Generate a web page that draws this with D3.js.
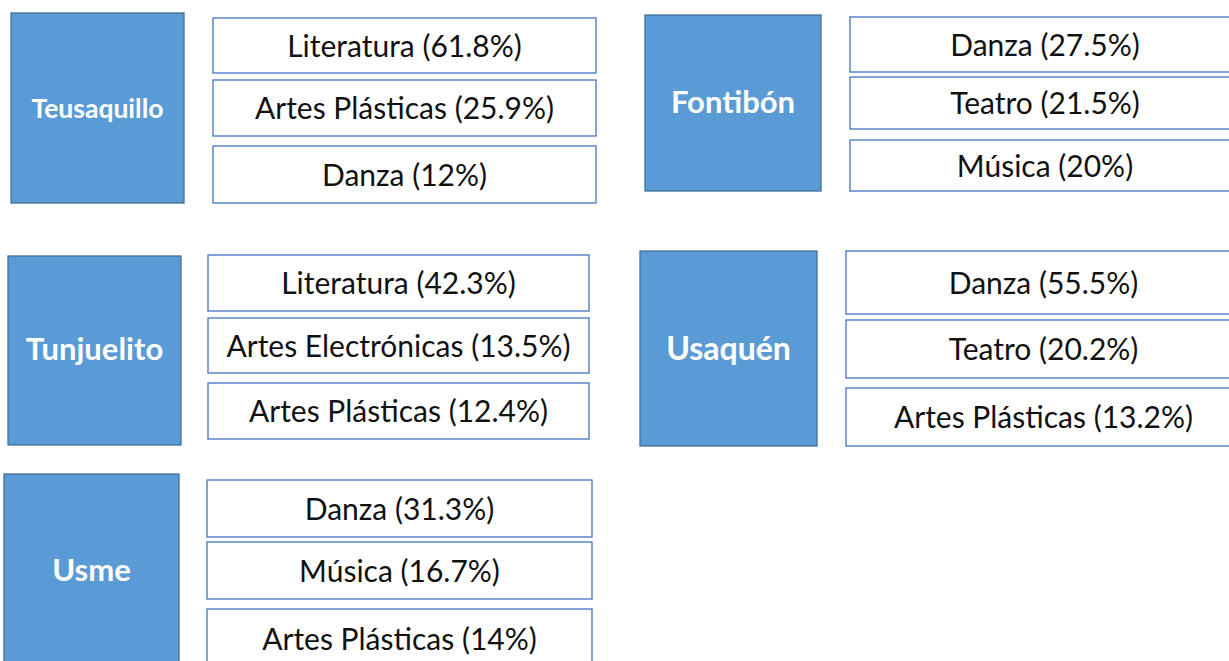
<!DOCTYPE html>
<html>
<head>
<meta charset="utf-8">
<script src="https://cdn.jsdelivr.net/npm/d3@7"></script>
<style>
  html, body { margin: 0; padding: 0; background: #fff; }
  svg { display: block; }
</style>
</head>
<body>
<svg id="chart" width="1229" height="661"></svg>
<script>
// ---- data ----
const localities = ["Teusaquillo", "Fontibón", "Tunjuelito", "Usaquén", "Usme"];
const categories = [
  ["Literatura", "Artes Plásticas", "Danza"],
  ["Danza", "Teatro", "Música"],
  ["Literatura", "Artes Electrónicas", "Artes Plásticas"],
  ["Danza", "Teatro", "Artes Plásticas"],
  ["Danza", "Música", "Artes Plásticas"]
];
const shares = [
  [61.8, 25.9, 12],
  [27.5, 21.5, 20],
  [42.3, 13.5, 12.4],
  [55.5, 20.2, 13.2],
  [31.3, 16.7, 14]
];

// ---- layout (positions only) ----
const panels = [
  { bx: 11, by: 13, bw: 173, bh: 190, lx: 213, lw: 383, rows: [[18, 55], [80, 56], [146, 57]], fs: 26.5, ly: 108 },
  { bx: 645, by: 15, bw: 176, bh: 176, lx: 850, lw: 390, rows: [[17, 55], [77, 52], [140, 51]], fs: 31, ly: 101 },
  { bx: 8, by: 256, bw: 173, bh: 189, lx: 208, lw: 381, rows: [[255, 56], [318, 55], [383, 56]], fs: 31, ly: 348 },
  { bx: 640, by: 251, bw: 177, bh: 195, lx: 846, lw: 395, rows: [[251, 63], [320, 58], [388, 58]], fs: 32, ly: 347 },
  { bx: 4, by: 474, bw: 175, bh: 200, lx: 207, lw: 385, rows: [[480, 57], [542, 57], [609, 60]], fs: 31, ly: 569 }
];

const svg = d3.select("#chart");
const fmt = v => d3.format("~r")(v) + "%";

const g = svg.selectAll("g.panel")
  .data(localities.map((name, i) => ({ name, cats: categories[i], vals: shares[i], lay: panels[i] })))
  .join("g").attr("class", "panel");

g.append("rect")
  .attr("x", d => d.lay.bx).attr("y", d => d.lay.by)
  .attr("width", d => d.lay.bw).attr("height", d => d.lay.bh)
  .attr("fill", "#5B9BD5").attr("stroke", "#41719C").attr("stroke-width", 1.3);

g.append("text")
  .attr("x", d => d.lay.bx + d.lay.bw / 2)
  .attr("y", d => d.lay.ly)
  .attr("text-anchor", "middle").attr("dominant-baseline", "central")
  .attr("fill", "#fff").attr("font-family", "Lato, 'Open Sans', sans-serif")
  .attr("font-weight", "bold")
  .attr("font-size", d => d.lay.fs)
  .text(d => d.name);

g.each(function(d) {
  const sel = d3.select(this);
  const items = d.cats.map((c, j) => ({ label: `${c} (${fmt(d.vals[j])})`, y: d.lay.rows[j][0], h: d.lay.rows[j][1] }));
  const row = sel.selectAll("g.row").data(items).join("g").attr("class", "row");
  row.append("rect")
    .attr("x", d.lay.lx).attr("y", r => r.y)
    .attr("width", d.lay.lw).attr("height", r => r.h)
    .attr("fill", "#fff").attr("stroke", "#4472C4").attr("stroke-width", 1.3);
  row.append("text")
    .attr("x", d.lay.lx + d.lay.lw / 2)
    .attr("y", r => r.y + r.h / 2 - 1)
    .attr("text-anchor", "middle").attr("dominant-baseline", "central")
    .attr("fill", "#111").attr("font-family", "Lato, 'Open Sans', sans-serif")
    .attr("font-size", 30)
    .text(r => r.label);
});
</script>
</body>
</html>
